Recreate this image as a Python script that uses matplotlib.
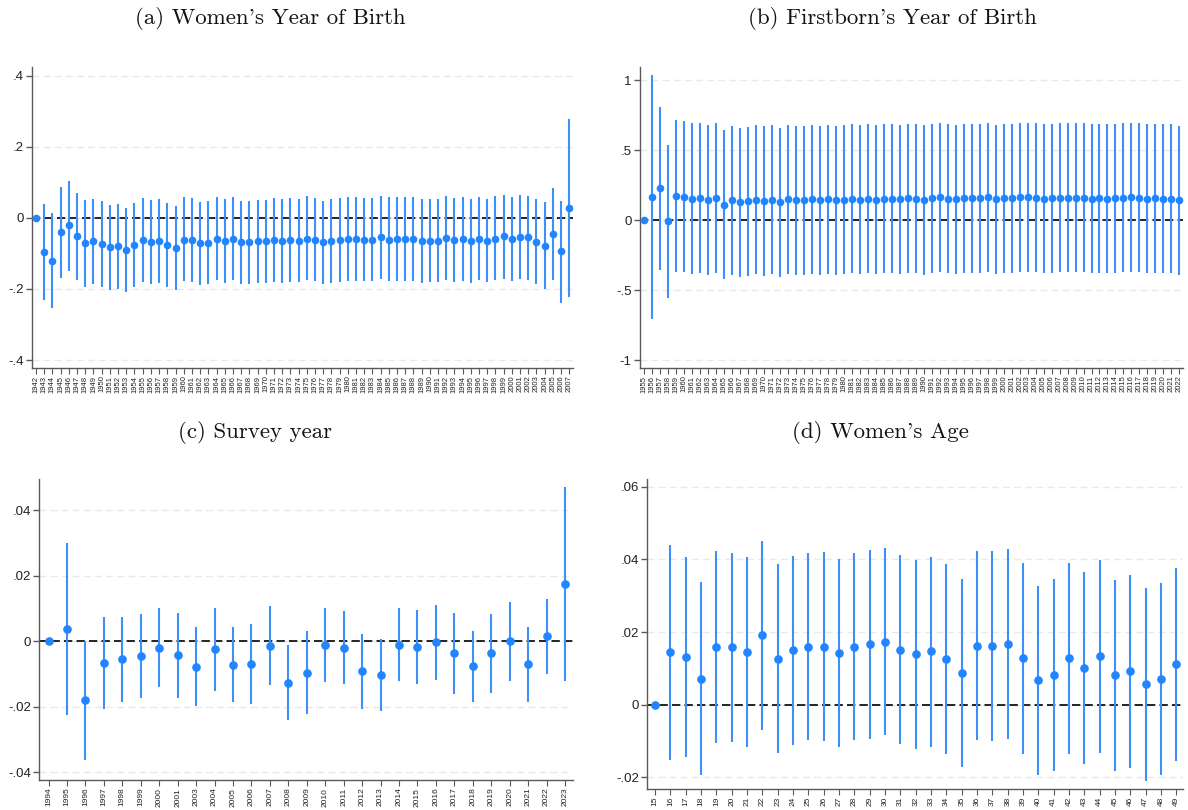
import numpy as np
import matplotlib
matplotlib.use("Agg")
import matplotlib.pyplot as plt
from matplotlib.ticker import FuncFormatter

# ---------------- data ----------------
# (a) Women's year of birth
yob_years = list(range(1942, 2008))
yob_est = [0.000, -0.095, -0.120, -0.040, -0.021, -0.050, -0.070, -0.066, -0.073, -0.083,
           -0.079, -0.091, -0.076, -0.063, -0.068, -0.064, -0.075, -0.085, -0.061, -0.062,
           -0.071, -0.070, -0.059, -0.064, -0.060, -0.067, -0.067, -0.066, -0.066, -0.063,
           -0.065, -0.062, -0.064, -0.058, -0.061, -0.068, -0.065, -0.062, -0.060, -0.059,
           -0.061, -0.061, -0.054, -0.061, -0.060, -0.060, -0.060, -0.065, -0.064, -0.064,
           -0.057, -0.063, -0.059, -0.065, -0.058, -0.064, -0.058, -0.052, -0.060, -0.054,
           -0.055, -0.067, -0.079, -0.045, -0.094, 0.028]
yob_hi = [0.000, 0.039, 0.013, 0.088, 0.105, 0.071, 0.051, 0.054, 0.047, 0.036,
          0.039, 0.029, 0.043, 0.056, 0.050, 0.054, 0.043, 0.034, 0.058, 0.057,
          0.046, 0.048, 0.060, 0.054, 0.060, 0.049, 0.049, 0.051, 0.051, 0.055,
          0.052, 0.057, 0.054, 0.061, 0.057, 0.049, 0.052, 0.056, 0.058, 0.059,
          0.057, 0.057, 0.063, 0.058, 0.058, 0.058, 0.058, 0.052, 0.054, 0.054,
          0.061, 0.056, 0.059, 0.052, 0.060, 0.054, 0.061, 0.065, 0.058, 0.064,
          0.063, 0.052, 0.044, 0.084, 0.049, 0.279]
yob_lo = [0.000, -0.230, -0.253, -0.169, -0.148, -0.176, -0.193, -0.187, -0.193, -0.202,
          -0.199, -0.209, -0.194, -0.180, -0.185, -0.182, -0.193, -0.202, -0.178, -0.179,
          -0.189, -0.187, -0.176, -0.182, -0.176, -0.185, -0.185, -0.183, -0.183, -0.180,
          -0.183, -0.179, -0.181, -0.175, -0.178, -0.187, -0.183, -0.179, -0.177, -0.177,
          -0.178, -0.178, -0.172, -0.178, -0.177, -0.178, -0.178, -0.183, -0.181, -0.181,
          -0.175, -0.179, -0.177, -0.183, -0.176, -0.181, -0.175, -0.171, -0.178, -0.173,
          -0.174, -0.187, -0.201, -0.174, -0.239, -0.222]

# (b) Firstborn's year of birth
fb_years = list(range(1955, 2023))
fb_est = [0.000, 0.167, 0.229, -0.007, 0.171, 0.169, 0.155, 0.162, 0.148, 0.162,
          0.112, 0.143, 0.129, 0.136, 0.148, 0.138, 0.148, 0.129, 0.150, 0.143,
          0.145, 0.152, 0.145, 0.152, 0.145, 0.148, 0.155, 0.148, 0.155, 0.148,
          0.155, 0.155, 0.152, 0.157, 0.155, 0.148, 0.157, 0.164, 0.155, 0.152,
          0.157, 0.157, 0.157, 0.164, 0.152, 0.157, 0.160, 0.164, 0.164, 0.162,
          0.155, 0.157, 0.162, 0.162, 0.162, 0.162, 0.155, 0.160, 0.155, 0.160,
          0.162, 0.164, 0.162, 0.155, 0.160, 0.155, 0.155, 0.145]
fb_hi = [0.000, 1.038, 0.812, 0.538, 0.714, 0.710, 0.693, 0.698, 0.679, 0.693,
         0.643, 0.676, 0.660, 0.667, 0.679, 0.671, 0.679, 0.662, 0.681, 0.674,
         0.676, 0.683, 0.674, 0.683, 0.674, 0.679, 0.686, 0.679, 0.686, 0.679,
         0.688, 0.688, 0.683, 0.690, 0.688, 0.679, 0.690, 0.695, 0.688, 0.683,
         0.688, 0.688, 0.688, 0.695, 0.683, 0.688, 0.691, 0.695, 0.695, 0.693,
         0.686, 0.688, 0.693, 0.693, 0.693, 0.693, 0.686, 0.691, 0.686, 0.691,
         0.693, 0.695, 0.693, 0.686, 0.691, 0.686, 0.686, 0.676]
fb_lo = [0.000, -0.702, -0.355, -0.552, -0.371, -0.369, -0.383, -0.374, -0.388, -0.374,
         -0.421, -0.388, -0.402, -0.398, -0.386, -0.395, -0.386, -0.402, -0.383, -0.390,
         -0.388, -0.381, -0.388, -0.381, -0.388, -0.386, -0.379, -0.386, -0.379, -0.386,
         -0.379, -0.379, -0.383, -0.376, -0.379, -0.388, -0.376, -0.369, -0.379, -0.383,
         -0.376, -0.376, -0.376, -0.369, -0.383, -0.376, -0.374, -0.369, -0.369, -0.371,
         -0.379, -0.376, -0.371, -0.371, -0.371, -0.371, -0.379, -0.374, -0.379, -0.374,
         -0.371, -0.369, -0.371, -0.379, -0.374, -0.379, -0.379, -0.390]

# (c) Survey year
sy_years = [1994, 1995, 1996, 1997, 1998, 1999, 2000, 2001, 2003, 2004, 2005, 2006, 2007,
            2008, 2009, 2010, 2011, 2012, 2013, 2014, 2015, 2016, 2017, 2018, 2019, 2020,
            2021, 2022, 2023]
sy_est = [0.0000, 0.0037, -0.0180, -0.0067, -0.0055, -0.0044, -0.0020, -0.0043, -0.0078,
          -0.0025, -0.0071, -0.0070, -0.0014, -0.0126, -0.0096, -0.0012, -0.0019, -0.0092,
          -0.0102, -0.0011, -0.0017, -0.0003, -0.0037, -0.0076, -0.0036, 0.0000, -0.0070,
          0.0015, 0.0176]
sy_hi = [0.0000, 0.0299, 0.0002, 0.0073, 0.0074, 0.0082, 0.0101, 0.0085, 0.0044,
         0.0103, 0.0044, 0.0052, 0.0108, -0.0011, 0.0032, 0.0101, 0.0093, 0.0022,
         0.0006, 0.0101, 0.0095, 0.0110, 0.0087, 0.0033, 0.0083, 0.0121, 0.0044,
         0.0130, 0.0472]
sy_lo = [0.0000, -0.0225, -0.0362, -0.0206, -0.0184, -0.0172, -0.0139, -0.0172, -0.0199,
         -0.0152, -0.0187, -0.0193, -0.0134, -0.0241, -0.0223, -0.0124, -0.0132, -0.0207,
         -0.0212, -0.0122, -0.0130, -0.0117, -0.0161, -0.0187, -0.0157, -0.0121, -0.0186,
         -0.0099, -0.0120]

# (d) Women's age
age_vals = list(range(15, 50))
age_est = [0.0000, 0.0144, 0.0131, 0.0072, 0.0158, 0.0158, 0.0146, 0.0192, 0.0127, 0.0150,
           0.0160, 0.0160, 0.0142, 0.0160, 0.0167, 0.0174, 0.0152, 0.0139, 0.0147, 0.0127,
           0.0086, 0.0163, 0.0162, 0.0167, 0.0128, 0.0068, 0.0083, 0.0128, 0.0102, 0.0134,
           0.0081, 0.0092, 0.0056, 0.0072, 0.0111]
age_hi = [0.0000, 0.0439, 0.0406, 0.0337, 0.0422, 0.0417, 0.0406, 0.0450, 0.0386, 0.0410,
          0.0417, 0.0419, 0.0401, 0.0417, 0.0427, 0.0431, 0.0412, 0.0398, 0.0406, 0.0387,
          0.0345, 0.0424, 0.0423, 0.0428, 0.0391, 0.0328, 0.0346, 0.0391, 0.0365, 0.0399,
          0.0342, 0.0357, 0.0322, 0.0336, 0.0376]
age_lo = [0.0000, -0.0151, -0.0145, -0.0193, -0.0106, -0.0102, -0.0116, -0.0069, -0.0134,
          -0.0110, -0.0097, -0.0100, -0.0117, -0.0098, -0.0094, -0.0084, -0.0109, -0.0121,
          -0.0115, -0.0135, -0.0172, -0.0097, -0.0099, -0.0094, -0.0135, -0.0192, -0.0182,
          -0.0135, -0.0162, -0.0132, -0.0182, -0.0173, -0.0209, -0.0193, -0.0156]

titles = ["(a) Women's Year of Birth", "(b) Firstborn's Year of Birth",
          "(c) Survey year", "(d) Women's Age"]

# ---------------- styling ----------------
BLUE = "#2185ff"
CI_BLUE = "#3d90f7"
GRID = "#e9e9e9"
SPINE = "#5a5a5a"
TITLE_FONT = ["cmr10", "DejaVu Serif"]

plt.rcParams["font.family"] = ["Liberation Sans", "DejaVu Sans"]


def stata_fmt(v, pos=None):
    if abs(v) < 1e-12:
        return "0"
    s = ("%.4f" % v).rstrip("0").rstrip(".")
    if s.startswith("0."):
        s = s[1:]
    elif s.startswith("-0."):
        s = "-" + s[2:]
    return s


def draw_panel(ax, labels, est, lo, hi, yticks, ylim, xfs, ms):
    x = np.arange(len(labels))
    est = np.asarray(est)
    lo = np.asarray(lo)
    hi = np.asarray(hi)
    for yt in yticks:
        ax.axhline(yt, color=GRID, lw=1.0, ls=(0, (5, 3)), zorder=0)
    ax.axhline(0, color="black", lw=1.2, ls=(0, (5, 2.5)), zorder=1)
    ax.vlines(x, lo, hi, color=CI_BLUE, lw=1.5, zorder=2)
    ax.plot(x, est, "o", color=BLUE, ms=ms, mec=BLUE, zorder=3)

    ax.set_xlim(-0.5, len(labels) - 0.55)
    ax.set_ylim(*ylim)
    ax.set_yticks(yticks)
    ax.yaxis.set_major_formatter(FuncFormatter(stata_fmt))
    ax.set_xticks(x)
    ax.set_xticklabels([str(v) for v in labels], rotation=90, fontsize=xfs)

    for side in ("top", "right"):
        ax.spines[side].set_visible(False)
    for side in ("left", "bottom"):
        ax.spines[side].set_color(SPINE)
        ax.spines[side].set_linewidth(1.0)
    ax.tick_params(axis="y", labelsize=9.5, length=4, width=1.0, color=SPINE,
                   pad=2, labelcolor="#222222")
    ax.tick_params(axis="x", length=4, width=0.8, color=SPINE, pad=1.5,
                   labelcolor="#222222")


fig = plt.figure(figsize=(11.88, 8.10), dpi=100)

ax_a = fig.add_axes([0.0269, 0.5457, 0.4554, 0.3716])
ax_b = fig.add_axes([0.5387, 0.5457, 0.4571, 0.3716])
ax_c = fig.add_axes([0.0331, 0.0370, 0.4495, 0.3712])
ax_d = fig.add_axes([0.5449, 0.0263, 0.4512, 0.3827])

draw_panel(ax_a, yob_years, yob_est, yob_lo, yob_hi,
           [-0.4, -0.2, 0, 0.2, 0.4], (-0.4224, 0.425), 5.5, 4.5)
draw_panel(ax_b, fb_years, fb_est, fb_lo, fb_hi,
           [-1, -0.5, 0, 0.5, 1], (-1.055, 1.095), 5.5, 4.5)
draw_panel(ax_c, sy_years, sy_est, sy_lo, sy_hi,
           [-0.04, -0.02, 0, 0.02, 0.04], (-0.0424, 0.0495), 6, 5.2)
draw_panel(ax_d, age_vals, age_est, age_lo, age_hi,
           [-0.02, 0, 0.02, 0.04, 0.06], (-0.0231, 0.0622), 6, 5.2)

# Panel titles centred above each plot area
for title, (cx, cy) in zip(titles, [(270, 18), (892, 18), (255, 432), (880, 432)]):
    fig.text(cx / 1188, 1 - cy / 810, title, ha="center", va="center",
             family=TITLE_FONT, fontsize=16.5, color="#111111")

fig.savefig("out.png", dpi=100)
